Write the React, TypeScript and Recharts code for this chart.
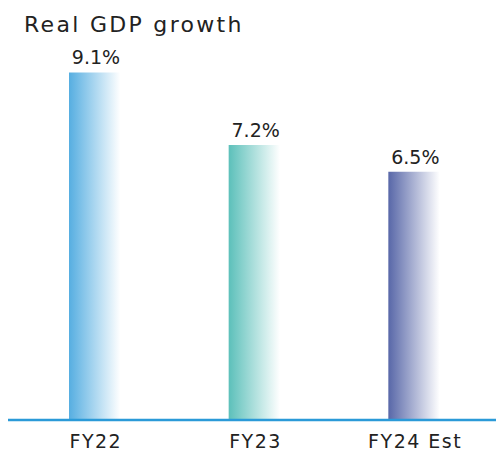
import { Bar, BarChart, Cell, LabelList, XAxis, YAxis } from "recharts";

const years = ["FY22", "FY23", "FY24 Est"];
const growth = [9.1, 7.2, 6.5];
const barColors = ["#56aee1", "#5cc0ba", "#5867a8"];

const FONT = "'DejaVu Sans', sans-serif";
const TEXT = "#222222";

const chartData = years.map((year, i) => ({ year, growth: growth[i] }));

export default function App() {
  return (
    <div style={{ position: "relative", width: 496, height: 444, fontFamily: FONT }}>
      <div
        style={{
          position: "absolute",
          left: 16,
          top: 4,
          fontSize: 22,
          letterSpacing: 2.3,
          color: TEXT,
        }}
      >
        Real GDP growth
      </div>
      <BarChart
        width={496}
        height={444}
        data={chartData}
        margin={{ top: 30, right: 0, bottom: 0, left: 0 }}
      >
        <defs>
          {barColors.map((color, i) => (
            <linearGradient key={color} id={`barGrad${i}`} x1="0" y1="0" x2="1" y2="0">
              <stop offset="0%" stopColor={color} stopOpacity={1} />
              <stop offset="95%" stopColor="#ffffff" stopOpacity={1} />
            </linearGradient>
          ))}
        </defs>
        <YAxis hide domain={[0, 10]} />
        <XAxis
          dataKey="year"
          height={32}
          padding={{ left: 8, right: 9 }}
          axisLine={{ stroke: "#2b9ad8", strokeWidth: 2.5 }}
          tickLine={false}
          tickMargin={9}
          tick={{ fill: TEXT, fontSize: 19, fontFamily: FONT, letterSpacing: 1.5 }}
        />
        <Bar dataKey="growth" barSize={54} isAnimationActive={false}>
          {chartData.map((row, i) => (
            <Cell key={row.year} fill={`url(#barGrad${i})`} />
          ))}
          <LabelList
            dataKey="growth"
            position="top"
            offset={8}
            formatter={(v: number) => `${v}%`}
            style={{ fill: TEXT, fontSize: 19, fontFamily: FONT }}
          />
        </Bar>
      </BarChart>
    </div>
  );
}
